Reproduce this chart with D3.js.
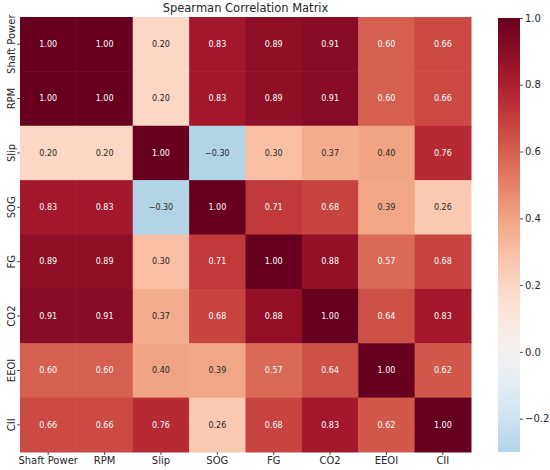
<!DOCTYPE html>
<html>
<head>
<meta charset="utf-8">
<script src="https://cdn.jsdelivr.net/npm/d3@7"></script>
<style>
  body { margin: 0; background: #fff; }
  text { font-family: "DejaVu Sans", sans-serif; }
</style>
</head>
<body>
<div id="chart"></div>
<script>
var labels = ["Shaft Power", "RPM", "Slip", "SOG", "FG", "CO2", "EEOI", "CII"];

var rowShaftPower = [1.00, 1.00, 0.20, 0.83, 0.89, 0.91, 0.60, 0.66];
var rowRPM        = [1.00, 1.00, 0.20, 0.83, 0.89, 0.91, 0.60, 0.66];
var rowSlip       = [0.20, 0.20, 1.00, -0.30, 0.30, 0.37, 0.40, 0.76];
var rowSOG        = [0.83, 0.83, -0.30, 1.00, 0.71, 0.68, 0.39, 0.26];
var rowFG         = [0.89, 0.89, 0.30, 0.71, 1.00, 0.88, 0.57, 0.68];
var rowCO2        = [0.91, 0.91, 0.37, 0.68, 0.88, 1.00, 0.64, 0.83];
var rowEEOI       = [0.60, 0.60, 0.40, 0.39, 0.57, 0.64, 1.00, 0.62];
var rowCII        = [0.66, 0.66, 0.76, 0.26, 0.68, 0.83, 0.62, 1.00];

var colorbarTicks = [-0.2, 0.0, 0.2, 0.4, 0.6, 0.8, 1.0];

var matrix = [rowShaftPower, rowRPM, rowSlip, rowSOG, rowFG, rowCO2, rowEEOI, rowCII];

var svgWidth = 550;
var svgHeight = 470;

var heat = { left: 20, top: 17, right: 471, bottom: 452 };
var cbar = { left: 498, right: 520, top: 18, bottom: 452 };

var svg = d3.select("#chart")
  .append("svg")
  .attr("width", svgWidth)
  .attr("height", svgHeight);

// flatten cells
var cells = [];
matrix.forEach(function(row, i) {
  row.forEach(function(v, j) {
    cells.push({ row: labels[i], col: labels[j], value: v });
  });
});

var xScale = d3.scaleBand().domain(labels).range([heat.left, heat.right]);
var yScale = d3.scaleBand().domain(labels).range([heat.top, heat.bottom]);

// RdBu_r centered on 0 (seaborn center=0 -> symmetric range [-1, 1])
var vmin = d3.min(cells, d => d.value);
var vmax = d3.max(cells, d => d.value);
function color(v) {
  return d3.interpolateRdBu(1 - (v + 1) / 2);
}

function textColor(v) {
  var c = d3.rgb(color(v));
  var lin = [c.r, c.g, c.b].map(function(x) {
    x = x / 255;
    return x <= 0.03928 ? x / 12.92 : Math.pow((x + 0.055) / 1.055, 2.4);
  });
  var lum = 0.2126 * lin[0] + 0.7152 * lin[1] + 0.0722 * lin[2];
  return lum > 0.408 ? "#262626" : "#ffffff";
}

// cells
svg.append("g")
  .selectAll("rect")
  .data(cells)
  .enter()
  .append("rect")
  .attr("x", d => xScale(d.col))
  .attr("y", d => yScale(d.row))
  .attr("width", xScale.bandwidth() + 0.5)
  .attr("height", yScale.bandwidth() + 0.5)
  .attr("fill", d => color(d.value));

// annotations
svg.append("g")
  .selectAll("text")
  .data(cells)
  .enter()
  .append("text")
  .attr("x", d => xScale(d.col) + xScale.bandwidth() / 2)
  .attr("y", d => yScale(d.row) + yScale.bandwidth() / 2)
  .attr("dy", "0.35em")
  .attr("text-anchor", "middle")
  .attr("font-size", "8px")
  .attr("fill", d => textColor(d.value))
  .text(d => d.value < 0 ? "\u2212" + Math.abs(d.value).toFixed(2) : d.value.toFixed(2));

// x axis
var xAxis = svg.append("g")
  .attr("transform", `translate(0, ${heat.bottom})`)
  .call(d3.axisBottom(xScale).tickSize(3).tickPadding(2));
xAxis.select(".domain").remove();
xAxis.selectAll("line").attr("stroke", "#262626").attr("stroke-width", 0.8);
xAxis.selectAll("text")
  .attr("font-size", "10px")
  .attr("fill", "#262626")
  .style("font-family", "DejaVu Sans");

// y axis, labels rotated
var yAxis = svg.append("g")
  .attr("transform", `translate(${heat.left}, 0)`)
  .call(d3.axisLeft(yScale).tickSize(3).tickPadding(2));
yAxis.select(".domain").remove();
yAxis.selectAll("line").attr("stroke", "#262626").attr("stroke-width", 0.8);
yAxis.selectAll("text")
  .attr("font-size", "10px")
  .attr("fill", "#262626")
  .style("font-family", "DejaVu Sans")
  .attr("text-anchor", "middle")
  .attr("x", null)
  .attr("dy", null)
  .attr("transform", "translate(-5, 0) rotate(-90)");

// title
svg.append("text")
  .attr("x", (heat.left + heat.right) / 2)
  .attr("y", 12)
  .attr("text-anchor", "middle")
  .attr("font-size", "11.5px")
  .attr("fill", "#262626")
  .text("Spearman Correlation Matrix");

// colorbar
var cScale = d3.scaleLinear().domain([vmin, vmax]).range([cbar.bottom, cbar.top]);

var defs = svg.append("defs");
var grad = defs.append("linearGradient")
  .attr("id", "cbarGrad")
  .attr("x1", 0).attr("y1", 1).attr("x2", 0).attr("y2", 0);
d3.range(0, 1.0001, 0.05).forEach(function(t) {
  var v = vmin + t * (vmax - vmin);
  grad.append("stop")
    .attr("offset", t)
    .attr("stop-color", color(v));
});

svg.append("rect")
  .attr("x", cbar.left)
  .attr("y", cbar.top)
  .attr("width", cbar.right - cbar.left)
  .attr("height", cbar.bottom - cbar.top)
  .attr("fill", "url(#cbarGrad)");

var cAxis = svg.append("g")
  .attr("transform", `translate(${cbar.right}, 0)`)
  .call(d3.axisRight(cScale)
    .tickValues(colorbarTicks)
    .tickSize(3)
    .tickPadding(2)
    .tickFormat(d => d < 0 ? "\u2212" + Math.abs(d).toFixed(1) : d.toFixed(1)));
cAxis.select(".domain").remove();
cAxis.selectAll("line").attr("stroke", "#262626").attr("stroke-width", 0.8);
cAxis.selectAll("text")
  .attr("font-size", "10px")
  .attr("fill", "#262626")
  .style("font-family", "DejaVu Sans");
</script>
</body>
</html>
